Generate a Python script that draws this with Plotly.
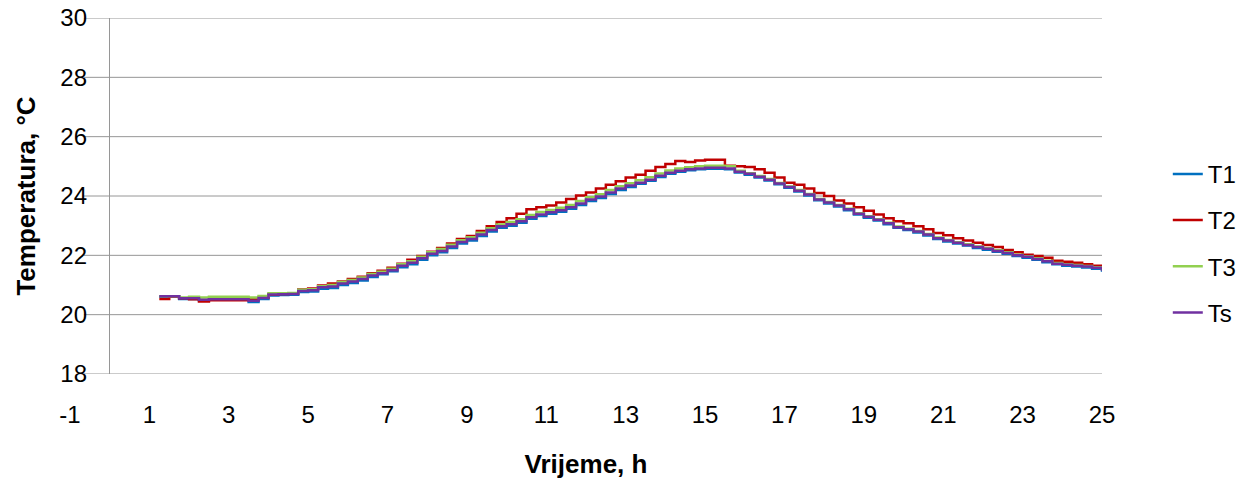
import plotly.graph_objects as go

# Measurement times (hours)
hours = [
    1.25, 1.5, 1.75, 2.0, 2.25, 2.5, 2.75, 3.0, 3.25, 3.5,
    3.75, 4.0, 4.25, 4.5, 4.75, 5.0, 5.25, 5.5, 5.75, 6.0,
    6.25, 6.5, 6.75, 7.0, 7.25, 7.5, 7.75, 8.0, 8.25, 8.5,
    8.75, 9.0, 9.25, 9.5, 9.75, 10.0, 10.25, 10.5, 10.75, 11.0,
    11.25, 11.5, 11.75, 12.0, 12.25, 12.5, 12.75, 13.0, 13.25, 13.5,
    13.75, 14.0, 14.25, 14.5, 14.75, 15.0, 15.25, 15.5, 15.75, 16.0,
    16.25, 16.5, 16.75, 17.0, 17.25, 17.5, 17.75, 18.0, 18.25, 18.5,
    18.75, 19.0, 19.25, 19.5, 19.75, 20.0, 20.25, 20.5, 20.75, 21.0,
    21.25, 21.5, 21.75, 22.0, 22.25, 22.5, 22.75, 23.0, 23.25, 23.5,
    23.75, 24.0, 24.25, 24.5, 24.75, 25.0,
]

t1 = [
    20.60, 20.60, 20.53, 20.53, 20.48, 20.50, 20.50, 20.50, 20.50, 20.43,
    20.53, 20.65, 20.66, 20.67, 20.76, 20.78, 20.87, 20.90, 21.00, 21.07,
    21.15, 21.27, 21.36, 21.46, 21.60, 21.70, 21.85, 22.00, 22.10, 22.25,
    22.40, 22.50, 22.65, 22.80, 22.93, 23.00, 23.10, 23.23, 23.33, 23.40,
    23.47, 23.57, 23.70, 23.83, 23.93, 24.07, 24.20, 24.30, 24.41, 24.51,
    24.64, 24.75, 24.82, 24.87, 24.90, 24.92, 24.92, 24.90, 24.79, 24.72,
    24.62, 24.52, 24.40, 24.28, 24.15, 24.02, 23.86, 23.75, 23.65, 23.52,
    23.38, 23.27, 23.17, 23.05, 22.93, 22.85, 22.77, 22.67, 22.55, 22.47,
    22.40, 22.33, 22.25, 22.19, 22.12, 22.05, 21.98, 21.92, 21.85, 21.77,
    21.70, 21.65, 21.62, 21.59, 21.55, 21.45,
]

t2 = [
    20.53, 20.60, 20.55, 20.52, 20.44, 20.49, 20.49, 20.49, 20.49, 20.52,
    20.58, 20.68, 20.70, 20.72, 20.85, 20.88, 20.98, 21.05, 21.12, 21.20,
    21.28, 21.40, 21.48, 21.58, 21.72, 21.85, 21.98, 22.12, 22.25, 22.40,
    22.55, 22.65, 22.82, 22.98, 23.12, 23.25, 23.40, 23.55, 23.62, 23.68,
    23.78, 23.90, 24.02, 24.12, 24.25, 24.38, 24.50, 24.62, 24.72, 24.85,
    24.98, 25.08, 25.18, 25.15, 25.20, 25.22, 25.22, 25.02, 25.00, 24.98,
    24.90, 24.78, 24.62, 24.45, 24.38, 24.25, 24.10, 24.00, 23.85, 23.75,
    23.62, 23.50, 23.38, 23.25, 23.15, 23.08, 22.98, 22.88, 22.75, 22.68,
    22.58, 22.50, 22.42, 22.35, 22.28, 22.18, 22.10, 22.02, 21.98, 21.92,
    21.82, 21.78, 21.75, 21.70, 21.65, 21.55,
]

t3 = [
    20.62, 20.62, 20.58, 20.60, 20.58, 20.60, 20.60, 20.60, 20.60, 20.58,
    20.63, 20.72, 20.72, 20.73, 20.84, 20.86, 20.96, 21.00, 21.10, 21.17,
    21.25, 21.37, 21.45, 21.55, 21.70, 21.80, 21.95, 22.10, 22.21, 22.36,
    22.51, 22.61, 22.76, 22.91, 23.04, 23.12, 23.22, 23.36, 23.46, 23.53,
    23.60, 23.70, 23.83, 23.96, 24.06, 24.20, 24.33, 24.43, 24.53, 24.63,
    24.76, 24.86, 24.93, 24.97, 25.00, 25.02, 25.02, 25.00, 24.85, 24.77,
    24.67, 24.57, 24.44, 24.32, 24.20, 24.07, 23.90, 23.80, 23.70, 23.57,
    23.42, 23.32, 23.22, 23.10, 22.97, 22.90, 22.82, 22.72, 22.60, 22.52,
    22.44, 22.37, 22.30, 22.24, 22.17, 22.10, 22.02, 21.97, 21.90, 21.82,
    21.74, 21.70, 21.67, 21.64, 21.60, 21.50,
]

ts = [
    20.62, 20.62, 20.55, 20.55, 20.50, 20.52, 20.52, 20.52, 20.52, 20.47,
    20.56, 20.68, 20.69, 20.70, 20.80, 20.82, 20.92, 20.95, 21.05, 21.12,
    21.20, 21.32, 21.40, 21.50, 21.65, 21.75, 21.90, 22.05, 22.15, 22.30,
    22.45, 22.55, 22.70, 22.85, 22.98, 23.05, 23.15, 23.28, 23.38, 23.45,
    23.52, 23.62, 23.75, 23.88, 23.98, 24.12, 24.25, 24.35, 24.45, 24.55,
    24.68, 24.78, 24.85, 24.90, 24.93, 24.95, 24.95, 24.93, 24.82, 24.75,
    24.65, 24.55, 24.42, 24.30, 24.18, 24.05, 23.88, 23.78, 23.68, 23.55,
    23.40, 23.30, 23.20, 23.08, 22.95, 22.88, 22.80, 22.70, 22.58, 22.50,
    22.42, 22.35, 22.28, 22.22, 22.15, 22.08, 22.00, 21.95, 21.88, 21.80,
    21.72, 21.68, 21.65, 21.62, 21.58, 21.48,
]

series_names = ["T1", "T2", "T3", "Ts"]
series_values = [t1, t2, t3, ts]
series_colors = ["#0070C0", "#C00000", "#92D050", "#7030A0"]

x_ticks = [-1, 1, 3, 5, 7, 9, 11, 13, 15, 17, 19, 21, 23, 25]
x_tick_labels = ["-1", "1", "3", "5", "7", "9", "11", "13", "15", "17", "19", "21", "23", "25"]
y_ticks = [18, 20, 22, 24, 26, 28, 30]

FONT = "Arial, Liberation Sans, sans-serif"
GRID = "#969696"

fig = go.Figure()
for name, vals, col in zip(series_names, series_values, series_colors):
    fig.add_trace(go.Scatter(
        x=hours, y=vals, name=name, mode="lines",
        line=dict(color=col, width=2.5, shape="hv"),
        legendgroup=name,
    ))

# horizontal gridlines, starting just right of the value labels
for yv in y_ticks:
    fig.add_shape(type="line", xref="x", yref="y",
                  x0=-0.65, x1=25, y0=yv, y1=yv,
                  line=dict(color=GRID, width=1), layer="below")

fig.update_layout(
    width=1253, height=485,
    margin=dict(l=70, r=151, t=18, b=111, autoexpand=False),
    paper_bgcolor="white", plot_bgcolor="white",
    font=dict(family=FONT, size=24, color="black"),
    showlegend=True,
    legend=dict(
        xref="container", yref="container",
        x=0.932, y=0.687, xanchor="left", yanchor="top",
        font=dict(size=24), tracegroupgap=12,
        bgcolor="rgba(0,0,0,0)",
    ),
    xaxis=dict(
        range=[-1, 25], tickvals=x_ticks, ticktext=x_tick_labels,
        showgrid=False,
        zeroline=True, zerolinecolor=GRID, zerolinewidth=1,
        showline=False, ticks="", ticklabelstandoff=24,
        tickfont=dict(size=24),
        title=dict(text="<b>Vrijeme, h</b>", font=dict(size=26), standoff=27),
    ),
    yaxis=dict(
        range=[18, 30], tickvals=y_ticks, showgrid=False,
        zeroline=False, showline=False, ticks="",
        ticklabelstandoff=-18,
        tickfont=dict(size=24),
        title=dict(text="<b>Temperatura, °C</b>", font=dict(size=26), standoff=17),
    ),
)

fig.write_html("out.html")
